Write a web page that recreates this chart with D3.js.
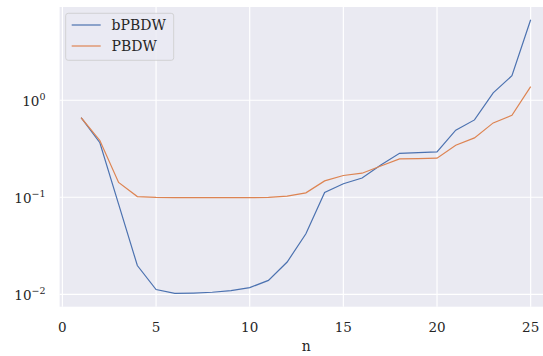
<!DOCTYPE html>
<html>
<head>
<meta charset="utf-8">
<script src="https://cdn.jsdelivr.net/npm/d3@7"></script>
<style>
  body { margin: 0; background: #fff; }
  text { font-family: "DejaVu Serif", serif; fill: #262626; }
</style>
</head>
<body>
<div id="chart"></div>
<script>
// data
const nValues = [1, 2, 3, 4, 5, 6, 7, 8, 9, 10, 11, 12, 13, 14, 15, 16, 17, 18, 19, 20, 21, 22, 23, 24, 25];
const bpbdw = [0.662, 0.365, 0.085, 0.0198, 0.0112, 0.0102, 0.0103, 0.0105, 0.0109, 0.0117, 0.0139, 0.0215, 0.042, 0.112, 0.138, 0.158, 0.215, 0.284, 0.289, 0.294, 0.491, 0.627, 1.19, 1.79, 6.76];
const pbdw = [0.66, 0.385, 0.142, 0.1017, 0.0995, 0.0993, 0.0993, 0.0993, 0.0993, 0.0993, 0.0995, 0.1026, 0.111, 0.1475, 0.1675, 0.177, 0.21, 0.249, 0.25, 0.253, 0.344, 0.409, 0.584, 0.70, 1.38];
const seriesNames = ['bPBDW', 'PBDW'];
const seriesColors = ['#4c72b0', '#dd8452'];
const xTicks = [0, 5, 10, 15, 20, 25];
const yTicks = [-2, -1, 0];

const WIDTH = 543;
const HEIGHT = 356;
const PLOT = { LEFT: 59.6, RIGHT: 553, TOP: 7, BOTTOM: 306.7 };

const svg = d3.select('#chart')
    .append('svg')
    .attr('width', WIDTH)
    .attr('height', HEIGHT);

const xScale = d3.scaleLinear()
    .domain([-0.15, 26.2])
    .range([PLOT.LEFT, PLOT.LEFT + 26.35 * 18.73]);

const yScale = d3.scaleLog()
    .domain([Math.pow(10, -2.128), Math.pow(10, 0.961)])
    .range([PLOT.BOTTOM, PLOT.TOP]);

svg.append('rect')
    .attr('x', PLOT.LEFT)
    .attr('y', PLOT.TOP)
    .attr('width', PLOT.RIGHT - PLOT.LEFT)
    .attr('height', PLOT.BOTTOM - PLOT.TOP)
    .attr('fill', '#eaeaf2');

// grid
svg.append('g')
    .selectAll('line')
    .data(xTicks)
    .join('line')
    .attr('x1', (d) => xScale(d))
    .attr('x2', (d) => xScale(d))
    .attr('y1', PLOT.TOP)
    .attr('y2', PLOT.BOTTOM)
    .attr('stroke', '#fff')
    .attr('stroke-width', 1.2);

svg.append('g')
    .selectAll('line')
    .data(yTicks)
    .join('line')
    .attr('x1', PLOT.LEFT)
    .attr('x2', PLOT.RIGHT)
    .attr('y1', (d) => yScale(Math.pow(10, d)))
    .attr('y2', (d) => yScale(Math.pow(10, d)))
    .attr('stroke', '#fff')
    .attr('stroke-width', 1.2);

// tick labels
svg.append('g')
    .selectAll('text')
    .data(xTicks)
    .join('text')
    .attr('x', (d) => xScale(d))
    .attr('y', 331.5)
    .attr('text-anchor', 'middle')
    .attr('font-size', 13.5)
    .text((d) => d);

const yLabels = svg.append('g')
    .selectAll('text')
    .data(yTicks)
    .join('text')
    .attr('x', 45.5)
    .attr('y', (d) => yScale(Math.pow(10, d)) + 6)
    .attr('text-anchor', 'end')
    .attr('font-size', 13.5);
yLabels.append('tspan').text('10');
yLabels.append('tspan')
    .attr('dy', -6)
    .attr('font-size', 9.5)
    .text((d) => (d < 0 ? '\u2212' + Math.abs(d) : d));

svg.append('text')
    .attr('x', (PLOT.LEFT + PLOT.RIGHT) / 2)
    .attr('y', 351)
    .attr('text-anchor', 'middle')
    .attr('font-size', 14)
    .text('n');

// lines
const lineGenerator = d3.line()
    .x((d) => xScale(d[0]))
    .y((d) => yScale(d[1]));

[bpbdw, pbdw].forEach((vals, i) => {
    svg.append('path')
        .attr('d', lineGenerator(nValues.map((n, j) => [n, vals[j]])))
        .attr('fill', 'none')
        .attr('stroke', seriesColors[i])
        .attr('stroke-width', 1.2);
});

// legend
const legend = svg.append('g');
legend.append('rect')
    .attr('x', 65.7)
    .attr('y', 13.3)
    .attr('width', 108)
    .attr('height', 47)
    .attr('rx', 2.5)
    .attr('fill', '#eaeaf2')
    .attr('fill-opacity', 0.8)
    .attr('stroke', '#cccccc')
    .attr('stroke-width', 0.8);

seriesNames.forEach((name, i) => {
    const y = 25 + i * 21;
    legend.append('line')
        .attr('x1', 71.7)
        .attr('x2', 100.7)
        .attr('y1', y)
        .attr('y2', y)
        .attr('stroke', seriesColors[i])
        .attr('stroke-width', 1.2);
    legend.append('text')
        .attr('x', 111.5)
        .attr('y', y + 5)
        .attr('font-size', 14)
        .text(name);
});
</script>
</body>
</html>
